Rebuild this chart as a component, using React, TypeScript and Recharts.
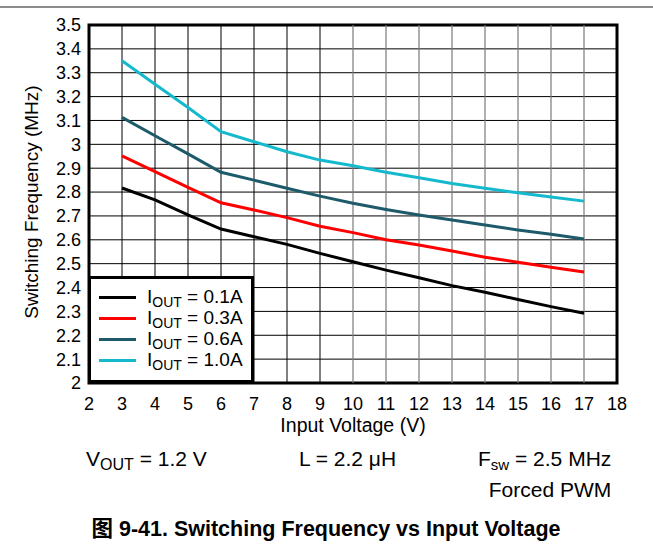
import React from 'react'
import {
  LineChart, Line, XAxis, YAxis, CartesianGrid,
  ReferenceArea, Legend
} from 'recharts'

// input voltage (V)
const voltages = [3, 4, 5, 6, 7, 8, 9, 10, 11, 12, 13, 14, 15, 16, 17]

// switching frequency (MHz) per output current
const iout01 = [2.817, 2.767, 2.704, 2.645, 2.613, 2.581, 2.543, 2.508, 2.473, 2.441, 2.408, 2.38, 2.35, 2.32, 2.292]
const iout03 = [2.952, 2.886, 2.82, 2.755, 2.725, 2.693, 2.657, 2.63, 2.6, 2.578, 2.553, 2.527, 2.506, 2.485, 2.465]
const iout06 = [3.113, 3.036, 2.96, 2.883, 2.85, 2.816, 2.783, 2.753, 2.727, 2.704, 2.683, 2.662, 2.641, 2.623, 2.603]
const iout10 = [3.35, 3.252, 3.154, 3.053, 3.011, 2.969, 2.934, 2.91, 2.883, 2.86, 2.836, 2.816, 2.797, 2.779, 2.762]

const seriesLabels = ['0.1A', '0.3A', '0.6A', '1.0A']
const seriesColors = ['#000000', '#ff0000', '#1d5a6a', '#14b9cd']

const xTicks = [2, 3, 4, 5, 6, 7, 8, 9, 10, 11, 12, 13, 14, 15, 16, 17, 18]
const yTicks = [2, 2.1, 2.2, 2.3, 2.4, 2.5, 2.6, 2.7, 2.8, 2.9, 3, 3.1, 3.2, 3.3, 3.4, 3.5]
// vertical grid lines: left part drawn black, right part grey
const gridDark = [3, 4, 5, 6, 7, 8, 9]
const gridGrey = [10, 11, 12, 13, 14, 15, 16, 17]
const yRange = [2, 3.5]

const data = voltages.map((v, i) => ({
  v,
  s0: iout01[i],
  s1: iout03[i],
  s2: iout06[i],
  s3: iout10[i]
}))

const FONT = '"Liberation Sans", Arial, "Noto Sans CJK SC", sans-serif'

function LegendBox({ payload }: any) {
  const items = (payload || []).filter((e: any) => seriesLabels.includes(e.value))
  return (
    <div style={{
      boxSizing: 'border-box', width: 166, height: 107,
      border: '3px solid #000', background: '#fff',
      paddingTop: 8, paddingLeft: 8, fontFamily: FONT, fontSize: 19, color: '#000'
    }}>
      {items.map((entry: any) => (
        <div key={entry.value} style={{ height: 21, display: 'flex', alignItems: 'center' }}>
          <span style={{ display: 'inline-block', width: 37, height: 3, background: entry.color, marginRight: 11 }} />
          <span style={{ lineHeight: '21px', whiteSpace: 'nowrap' }}>
            I<span style={{ fontSize: 14, position: 'relative', top: 4 }}>OUT</span> = {entry.value}
          </span>
        </div>
      ))}
    </div>
  )
}

const note = (left: number, top: number, size: number, extra: React.CSSProperties = {}): React.CSSProperties => ({
  position: 'absolute', left, top, fontSize: size, lineHeight: 1, whiteSpace: 'nowrap', color: '#000', ...extra
})

function gridLine(x: number, color: string, width: number) {
  return (
    <Line
      key={'grid' + x}
      data={yRange.map(g => ({ v: x, g }))}
      dataKey="g"
      name={'grid' + x}
      legendType="none"
      type="linear"
      stroke={color}
      strokeWidth={width}
      dot={false}
      activeDot={false}
      isAnimationActive={false}
    />
  )
}

export default function App() {
  return (
    <div style={{ position: 'absolute', left: 0, top: 0, width: 653, height: 544, background: '#fff', fontFamily: FONT }}>
      <div style={{ position: 'absolute', left: 0, top: 6, width: 653, height: 2, background: '#8c8c8c' }} />
      <LineChart
        width={653}
        height={544}
        data={data}
        margin={{ top: 25, right: 36, bottom: 131, left: 29 }}
      >
        <CartesianGrid vertical={false} stroke="#000" strokeWidth={1} />
        <XAxis
          dataKey="v"
          type="number"
          domain={[2, 18]}
          ticks={xTicks}
          interval={0}
          axisLine={false}
          tickLine={false}
          tickSize={0}
          tickMargin={14}
          height={30}
          tick={{ fill: '#000', fontSize: 18, fontFamily: FONT }}
        />
        <YAxis
          type="number"
          domain={[2, 3.5]}
          ticks={yTicks}
          interval={0}
          axisLine={false}
          tickLine={false}
          tickSize={0}
          tickMargin={8}
          width={60}
          tick={{ fill: '#000', fontSize: 18, fontFamily: FONT }}
        />
        {gridDark.map(x => gridLine(x, '#000', 1))}
        {gridGrey.map(x => gridLine(x, '#7a7a7a', 1.2))}
        {['s0', 's1', 's2', 's3'].map((k, i) => (
          <Line
            key={k}
            dataKey={k}
            name={seriesLabels[i]}
            type="linear"
            stroke={seriesColors[i]}
            strokeWidth={3}
            dot={false}
            isAnimationActive={false}
          />
        ))}
        <ReferenceArea x1={2} x2={18} y1={2} y2={3.5} fill="none" stroke="#000" strokeWidth={3} ifOverflow="visible" />
        <Legend
          layout="vertical"
          align="center"
          verticalAlign="middle"
          content={<LegendBox />}
          wrapperStyle={{ left: 88, top: 276, width: 166, height: 107 }}
        />
      </LineChart>

      <div style={note(31, 202, 19, { transform: 'translate(-50%, -50%) rotate(-90deg)' })}>
        Switching Frequency (MHz)
      </div>
      <div style={note(353, 415.5, 19.5, { transform: 'translateX(-50%)' })}>Input Voltage (V)</div>
      <div style={note(86, 448, 21)}>
        V<span style={{ fontSize: 16, position: 'relative', top: 4 }}>OUT</span> = 1.2 V
      </div>
      <div style={note(299, 448, 21)}>L = 2.2 μH</div>
      <div style={note(478, 448, 21)}>
        F<span style={{ fontSize: 15, position: 'relative', top: 4 }}>sw</span> = 2.5 MHz
      </div>
      <div style={note(550, 479, 21, { transform: 'translateX(-50%)' })}>Forced PWM</div>
      <div style={note(326, 519, 21.5, { transform: 'translateX(-50%)', fontWeight: 'bold' })}>
        图 9-41. Switching Frequency vs Input Voltage
      </div>
    </div>
  )
}
